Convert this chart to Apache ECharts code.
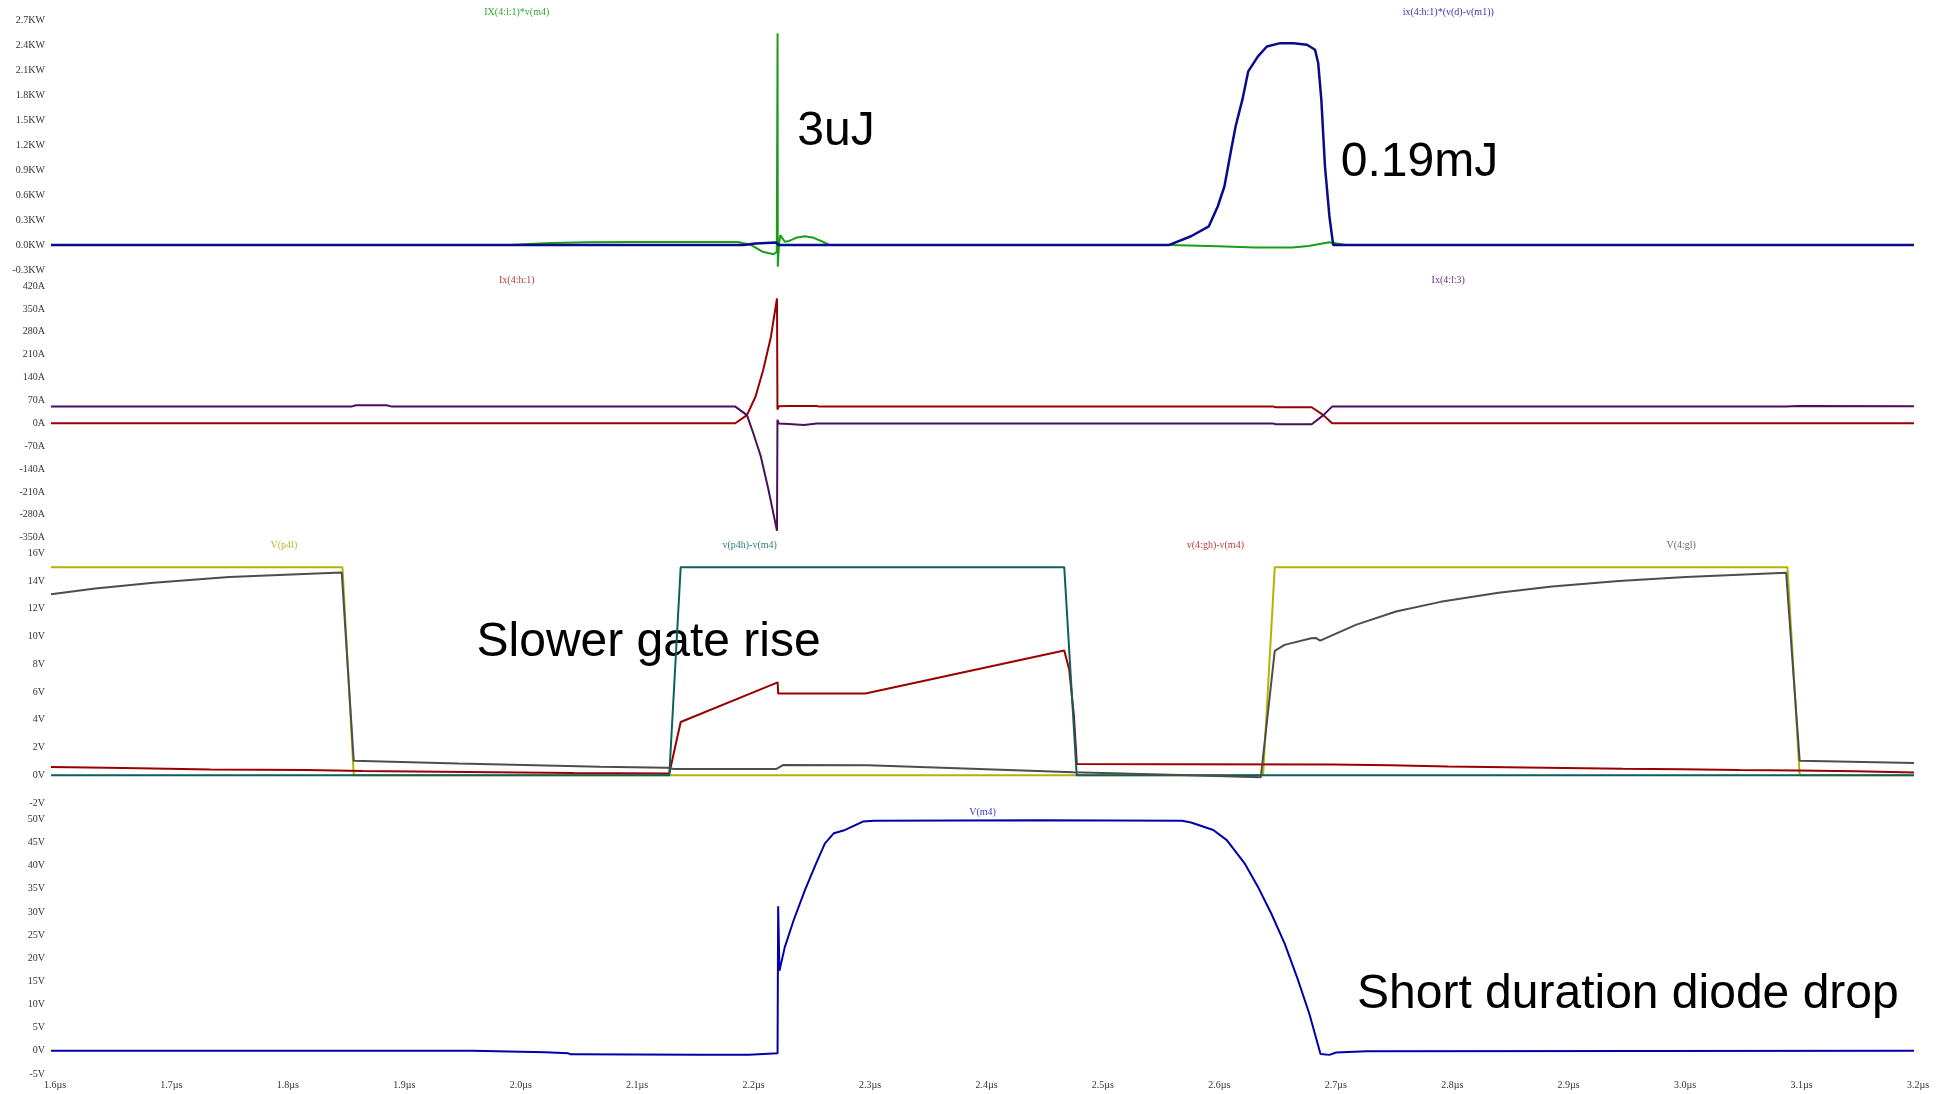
<!DOCTYPE html>
<html>
<head>
<meta charset="utf-8">
<script src="https://cdn.jsdelivr.net/npm/echarts@6/dist/echarts.min.js"></script>
<style>
html,body{margin:0;padding:0;background:#fff;}
#chart{width:1939px;height:1094px;}
</style>
</head>
<body>
<div id="chart"></div>
<script>
// ---------- DATA (time in µs) ----------
// Panel 1: power (KW)
const tPowLow  = [1.6,1.995,2.01,2.03,2.06,2.1,2.19,2.2014,2.211,2.2207,2.2233,2.2240,2.2242,2.2252,2.2264,2.2302,2.2341,2.2398,2.2475,2.2551,2.2628,2.2686,2.5606,2.602,2.634,2.666,2.680,2.698,2.712,3.2];
const vPowLow  = [0,0,0.012,0.025,0.035,0.038,0.038,0,-0.08,-0.11,-0.08,2.55,-0.26,0,0.12,0.04,0.05,0.087,0.106,0.087,0.04,0,0,-0.015,-0.03,-0.03,-0.01,0.035,0,0];
const tPowHigh = [1.6,2.195,2.205,2.223,2.225,2.5599,2.5791,2.5944,2.6021,2.6078,2.6136,2.6174,2.6232,2.6282,2.6366,2.6442,2.6557,2.6672,2.6787,2.6856,2.6883,2.6910,2.6941,2.6979,2.7012,3.2];
const vPowHigh = [0,0,0.02,0.03,0,0,0.106,0.226,0.467,0.708,1.15,1.43,1.75,2.09,2.27,2.39,2.43,2.43,2.41,2.35,2.19,1.75,0.95,0.35,0,0];

// Panel 2: currents (A)
const tIh = [1.6,2.1877,2.1977,2.2051,2.2117,2.2183,2.2235,2.2239,2.2249,2.2336,2.2576,2.26,2.6499,2.652,2.6827,2.6928,2.7002,3.2];
const vIh = [0,0,25,82,164,265,382,42,52,53,53,51,51,49,49,25,0,0];
const tIl = [1.6,1.858,1.862,1.888,1.893,2.1877,2.1977,2.2030,2.2095,2.2161,2.2235,2.2239,2.2249,2.2336,2.2467,2.2576,2.6499,2.652,2.6827,2.6928,2.7002,3.09,3.10,3.2];
const vIl = [51,51,55,55,51,51,25,-29,-100,-202,-329,11,-1,-2,-5,-1,-1,-3,-3,25,51,51,53,52];

// Panel 3: gate voltages (V)
const tP4l  = [1.6,1.8503,1.8600,2.641,2.651,3.0913,3.1018,3.2];
const vP4l  = [15,15,0,0,15,15,0,0];
const tP4h  = [1.6,2.131,2.1408,2.4702,2.4809,3.2];
const vP4h  = [0,0,15,15,0,0];
const tGh   = [1.6,1.648,1.688,1.737,1.819,1.868,1.934,2.049,2.131,2.1408,2.2241,2.2245,2.2995,2.4702,2.4745,2.4785,2.481,2.558,2.70,2.75,2.8,2.85,2.9,2.95,3.0,3.05,3.1,3.15,3.2];
const vGh   = [0.59,0.55,0.49,0.42,0.37,0.31,0.26,0.16,0.13,3.84,6.7,5.9,5.9,9.0,7.6,4.3,0.81,0.8,0.78,0.72,0.63,0.58,0.52,0.46,0.44,0.38,0.34,0.28,0.2];
const tGl   = [1.6,1.638,1.688,1.753,1.8497,1.860,1.950,2.0715,2.129,2.135,2.2227,2.229,2.3015,2.378,2.478,2.57,2.639,2.651,2.6594,2.6823,2.6862,2.690,2.7206,2.7551,2.7934,2.8432,2.8891,2.9465,3.004,3.0902,3.1018,3.2];
const vGl   = [13.04,13.47,13.87,14.3,14.61,1.05,0.85,0.62,0.55,0.45,0.45,0.74,0.72,0.5,0.21,0.02,-0.15,8.97,9.4,9.88,9.9,9.7,10.84,11.8,12.5,13.15,13.6,14.0,14.3,14.6,1.05,0.88];

// Panel 4: switch node (V)
const tM4 = [1.6,1.962,1.963,2.0245,2.026,2.044,2.046,2.157,2.1995,2.2240,2.2245,2.2256,2.2302,2.2378,2.2475,2.2571,2.2647,2.2724,2.2820,2.2973,2.3069,2.45,2.5714,2.5791,2.5982,2.6098,2.6251,2.6366,2.6481,2.6596,2.6711,2.6807,2.6903,2.6979,2.7037,2.730,3.2];
const vM4 = [0,0,-0.3,-0.3,-0.5,-0.5,-0.75,-0.85,-0.85,-0.5,31.2,17.3,22.4,28.2,34.7,40.5,44.8,47.0,47.7,49.5,49.7,49.8,49.7,49.3,47.7,45.5,40.5,35.4,29.6,23.1,15.2,8.0,-0.7,-0.87,-0.36,-0.07,0];

// Series names
const namePowLow = 'IX(4:l:1)*v(m4)';
const namePowHigh = 'ix(4:h:1)*(v(d)-v(m1))';
const nameIh = 'Ix(4:h:1)';
const nameIl = 'Ix(4:l:3)';
const nameP4l = 'V(p4l)';
const nameP4h = 'v(p4h)-v(m4)';
const nameGh = 'v(4:gh)-v(m4)';
const nameGl = 'V(4:gl)';
const nameM4 = 'V(m4)';

// Axis ranges
const xRange = [1.6, 3.2, 0.1];
const yPow = [-0.3, 2.7, 0.3];
const yCur = [-350, 420, 70];
const yGate = [-2, 16, 2];
const yM4 = [-5, 50, 5];

// Annotations
const notes = ['3uJ', '0.19mJ', 'Slower gate rise', 'Short duration diode drop'];

// ---------- CHART ----------
const zip = (t, v) => t.map((x, i) => [x, v[i]]);
const chart = echarts.init(document.getElementById('chart'), null, {renderer: 'canvas'});

const grids = [
  {left: 51, right: 25, top: 20.7, height: 249.3},
  {left: 51, right: 25, top: 286, height: 251.7},
  {left: 51, right: 25, top: 553.3, height: 249.7},
  {left: 51, right: 25, top: 819.3, height: 254.7}
];
const labelFont = {fontFamily: 'Liberation Serif', fontSize: 10, color: '#333'};
const clean = v => (Math.abs(v) < 1e-9 ? 0 : v);

const xAxes = grids.map((g, i) => ({
  type: 'value', gridIndex: i, min: xRange[0], max: xRange[1], interval: xRange[2],
  axisLine: {show: false}, axisTick: {show: false}, splitLine: {show: false},
  axisLabel: Object.assign({show: i === 3, margin: 6, padding: [0, 0, 0, 8],
    formatter: v => clean(v).toFixed(1) + 'µs'}, labelFont)
}));
const yDefs = [[yPow, v => clean(v).toFixed(1) + 'KW'], [yCur, v => Math.round(v) + 'A'],
               [yGate, v => Math.round(v) + 'V'], [yM4, v => Math.round(v) + 'V']];
const yAxes = yDefs.map((d, i) => ({
  type: 'value', gridIndex: i, min: d[0][0], max: d[0][1], interval: d[0][2],
  axisLine: {show: false}, axisTick: {show: false}, splitLine: {show: false},
  axisLabel: Object.assign({margin: 6, formatter: d[1]}, labelFont)
}));

function line(name, data, idx, color, w) {
  return {name, type: 'line', xAxisIndex: idx, yAxisIndex: idx, data,
    showSymbol: false, symbol: 'none', animation: false, clip: true,
    lineStyle: {color, width: w || 2}, itemStyle: {color}};
}

const series = [
  line(namePowLow, zip(tPowLow, vPowLow), 0, '#1a9e1a'),
  line(namePowHigh, zip(tPowHigh, vPowHigh), 0, '#0a0a8c', 2.5),
  line(nameIh, zip(tIh, vIh), 1, '#990000'),
  line(nameIl, zip(tIl, vIl), 1, '#4a0f5a'),
  line(nameP4l, zip(tP4l, vP4l), 2, '#b4b400'),
  line(nameGh, zip(tGh, vGh), 2, '#990000'),
  line(nameP4h, zip(tP4h, vP4h), 2, '#0f5f5f'),
  line(nameGl, zip(tGl, vGl), 2, '#4d4d4d'),
  line(nameM4, zip(tM4, vM4), 3, '#0000aa')
];

chart.setOption({
  backgroundColor: '#fff',
  animation: false,
  grid: grids, xAxis: xAxes, yAxis: yAxes, series
});

// series name labels placed above each panel
const nameLabels = [
  [namePowLow, 0, 2.0, 12.7, '#2ea82e'],
  [namePowHigh, 0, 2.8, 12.7, '#3535b5'],
  [nameIh, 1, 2.0, 280, '#b03a3a'],
  [nameIl, 1, 2.8, 280, '#6a2a7a'],
  [nameP4l, 2, 1.8, 545.7, '#b8b830'],
  [nameP4h, 2, 2.2, 545.7, '#2f7a7a'],
  [nameGh, 2, 2.6, 545.7, '#c03a3a'],
  [nameGl, 2, 3.0, 545.7, '#666666'],
  [nameM4, 3, 2.4, 812.7, '#3a3ad0']
];
const graphics = nameLabels.map(l => {
  const px = chart.convertToPixel({xAxisIndex: l[1]}, l[2]);
  return {type: 'text', x: px, y: l[3], silent: true,
    style: {text: l[0], fill: l[4], font: '10px "Liberation Serif"', textAlign: 'center', textVerticalAlign: 'middle'}};
});
const notePos = [[797.3, 131.5], [1340.8, 163], [476.5, 642.5], [1357, 995]];
notes.forEach((n, i) => graphics.push({type: 'text', x: notePos[i][0], y: notePos[i][1], silent: true,
  style: {text: n, fill: '#000', font: '48px "Liberation Sans"', textAlign: 'left', textVerticalAlign: 'middle'}}));
chart.setOption({graphic: graphics});
</script>
</body>
</html>
